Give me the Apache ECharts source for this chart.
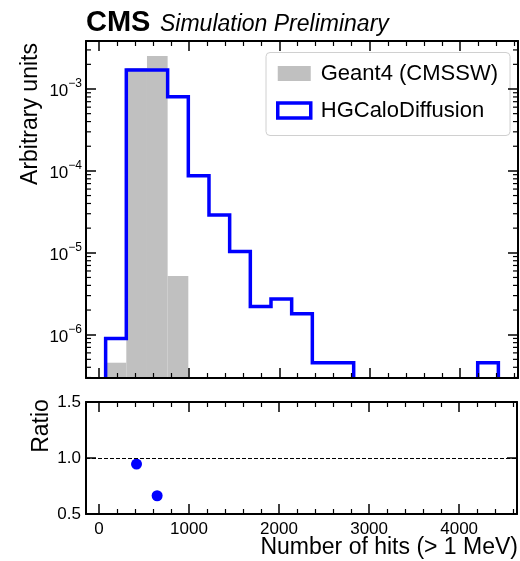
<!DOCTYPE html>
<html>
<head>
<meta charset="utf-8">
<script src="https://cdn.jsdelivr.net/npm/echarts@6/dist/echarts.min.js"></script>
<style>html,body{margin:0;padding:0;background:#fff}#c{width:520px;height:561px}</style>
</head>
<body>
<div id="c"></div>
<script>
// ---- data ----
const binEdges = [74, 303, 532, 761, 990, 1219, 1448, 1677, 1906, 2135, 2364, 2593, 2822, 3051, 3280, 3509, 3738, 3967, 4196, 4425];
const geant4Values = [4.55e-7, 1.81e-3, 2.53e-3, 5.2e-6, 0, 0, 0, 0, 0, 0, 0, 0, 0, 0, 0, 0, 0, 0, 0];
const hgcaloValues = [9.0e-7, 1.71e-3, 1.71e-3, 8.05e-4, 8.7e-5, 2.9e-5, 1.04e-5, 2.21e-6, 2.73e-6, 1.8e-6, 4.55e-7, 4.55e-7, 0, 0, 0, 0, 0, 0, 4.55e-7];
const ratioCenters = [417.5, 646.5];
const ratioValues = [0.946, 0.663];
const ratioTicks = [0.5, 1.0, 1.5];
const seriesNames = ['Geant4 (CMSSW)', 'HGCaloDiffusion'];

// ---- layout / style ----
const FONT = '"Liberation Sans", Arial, Helvetica, sans-serif';
const X_MIN = -143.5, X_MAX = 4642.5;
const Y_MIN = 2.96e-7, Y_MAX = 3.855e-3;
const BLUE = '#0000ff', GREY = '#c0c0c0';

const chart = echarts.init(document.getElementById('c'), null, {renderer: 'canvas'});

const spine = {show: true, onZero: false, lineStyle: {color: '#000', width: 2}};
function xAxisDef(grid, pos, showLabels) {
  return {
    type: 'value', gridIndex: grid, position: pos, min: X_MIN, max: X_MAX, z: 5,
    axisLine: spine,
    axisTick: {show: true, inside: true, length: 10, lineStyle: {color: '#000', width: 1.5}},
    minorTick: {show: true, splitNumber: 5, length: 5, lineStyle: {color: '#000', width: 1.2}},
    splitLine: {show: false}, minorSplitLine: {show: false},
    axisLabel: {show: showLabels, color: '#000', fontSize: 17, fontFamily: FONT, margin: 7,
      formatter: v => (Math.abs(v % 1000) < 1e-6 ? String(Math.round(v)) : '')}
  };
}
function logAxisDef(pos, showLabels) {
  return {
    type: 'log', logBase: 10, gridIndex: 0, position: pos, min: Y_MIN, max: Y_MAX, z: 5,
    axisLine: spine,
    axisTick: {show: true, inside: true, length: 10, lineStyle: {color: '#000', width: 1.5}},
    splitLine: {show: false},
    axisLabel: {
      show: showLabels, margin: 4,
      formatter: function (v) {
        const l = Math.log10(v), e = Math.round(l);
        if (Math.abs(l - e) > 1e-6) return '';
        return '{b|10}{s|' + (e < 0 ? '\u2212' : '') + Math.abs(e) + '}';
      },
      rich: {
        b: {fontSize: 17, lineHeight: 22, verticalAlign: 'bottom', fontFamily: FONT, color: '#000'},
        s: {fontSize: 12, lineHeight: 12, verticalAlign: 'top', fontFamily: FONT, color: '#000'}
      }
    }
  };
}
function ratioAxisDef(pos, showLabels) {
  return {
    type: 'value', gridIndex: 1, position: pos, min: ratioTicks[0], max: ratioTicks[ratioTicks.length - 1],
    interval: 0.5, z: 5,
    axisLine: spine,
    axisTick: {show: true, inside: true, length: 10, lineStyle: {color: '#000', width: 1.5}},
    splitLine: {show: false},
    axisLabel: {show: showLabels, color: '#000', fontSize: 17, fontFamily: FONT, margin: 5,
      formatter: v => v.toFixed(1)}
  };
}

// minor log tick positions (axis decoration)
const minorLogTicks = [];
for (let e = -7; e <= -2; e++) for (let k = 2; k <= 9; k++) {
  const v = k * Math.pow(10, e);
  if (v > Y_MIN && v < Y_MAX) minorLogTicks.push([0, v]);
}

const histItems = geant4Values.map((v, i) => [binEdges[i], binEdges[i + 1], v > 0 ? v : Y_MIN]);

const option = {
  animation: false,
  backgroundColor: '#fff',
  grid: [
    {left: 86, top: 41, width: 432, height: 337},
    {left: 86, top: 402, width: 432, height: 112}
  ],
  xAxis: [
    xAxisDef(0, 'bottom', false),
    xAxisDef(0, 'top', false),
    xAxisDef(1, 'bottom', true),
    xAxisDef(1, 'top', false)
  ],
  yAxis: [
    logAxisDef('left', true),
    logAxisDef('right', false),
    ratioAxisDef('left', true),
    ratioAxisDef('right', false)
  ],
  legend: {
    orient: 'vertical', left: 266, top: 52.5,
    padding: [10, 12, 14, 10],
    itemWidth: 33, itemHeight: 15, itemGap: 15,
    borderColor: '#d0d0d0', borderWidth: 1, borderRadius: 4,
    backgroundColor: 'rgba(255,255,255,0.8)',
    selectedMode: false,
    textStyle: {fontSize: 22, fontFamily: FONT, color: '#000', lineHeight: 15, padding: [0, 0, 0, 5]},
    data: [
      {name: seriesNames[0], icon: 'rect', itemStyle: {color: GREY, borderWidth: 0}},
      {name: seriesNames[1], icon: 'rect', itemStyle: {color: '#fff', borderColor: BLUE, borderWidth: 3.5}}
    ]
  },
  graphic: [
    {type: 'text', x: 86, y: 22.5, silent: true,
      style: {text: 'CMS', font: 'bold 29px ' + FONT, fill: '#000', textVerticalAlign: 'middle', textAlign: 'left'}},
    {type: 'text', x: 160, y: 25, silent: true,
      style: {text: 'Simulation Preliminary', font: 'italic 23px ' + FONT, fill: '#000', textVerticalAlign: 'middle', textAlign: 'left'}},
    {type: 'text', x: 518, y: 547.5, silent: true,
      style: {text: 'Number of hits (> 1 MeV)', font: '23px ' + FONT, fill: '#000', textVerticalAlign: 'middle', textAlign: 'right'}},
    {type: 'text', x: 30.3, y: 114, rotation: Math.PI / 2, silent: true,
      style: {text: 'Arbitrary units', font: '23px ' + FONT, fill: '#000', textVerticalAlign: 'middle', textAlign: 'center'}},
    {type: 'text', x: 42, y: 426, rotation: Math.PI / 2, silent: true,
      style: {text: 'Ratio', font: '23px ' + FONT, fill: '#000', textVerticalAlign: 'middle', textAlign: 'center'}}
  ],
  series: [
    {
      name: seriesNames[0], type: 'custom', xAxisIndex: 0, yAxisIndex: 0, clip: true, z: 2,
      data: histItems, encode: {x: [0, 1], y: 2},
      renderItem: function (params, api) {
        const i = params.dataIndex;
        const v = geant4Values[i];
        if (!(v > 0)) return null;
        const cs = params.coordSys;
        const p1 = api.coord([binEdges[i], v]);
        const p2 = api.coord([binEdges[i + 1], v]);
        const bottom = cs.y + cs.height;
        return {type: 'rect', shape: {x: p1[0], y: p1[1], width: p2[0] - p1[0], height: bottom - p1[1]},
          style: {fill: GREY, stroke: null}};
      }
    },
    {
      name: seriesNames[1], type: 'custom', xAxisIndex: 0, yAxisIndex: 0, clip: true, z: 3,
      data: [[binEdges[0], hgcaloValues[1]]], encode: {x: 0, y: 1},
      renderItem: function (params, api) {
        const cs = params.coordSys;
        const below = cs.y + cs.height + 12;
        const yOf = v => (v > 0 ? api.coord([binEdges[0], v])[1] : below);
        const pts = [[api.coord([binEdges[0], Y_MIN])[0], below]];
        for (let i = 0; i < hgcaloValues.length; i++) {
          const y = yOf(hgcaloValues[i]);
          pts.push([api.coord([binEdges[i], Y_MIN])[0], y]);
          pts.push([api.coord([binEdges[i + 1], Y_MIN])[0], y]);
        }
        pts.push([api.coord([binEdges[binEdges.length - 1], Y_MIN])[0], below]);
        return {type: 'polyline', shape: {points: pts},
          style: {stroke: BLUE, lineWidth: 3.5, fill: null, lineJoin: 'miter'}};
      }
    },
    {
      name: 'minorticks', type: 'custom', xAxisIndex: 0, yAxisIndex: 0, clip: false, z: 6, silent: true,
      data: minorLogTicks, encode: {x: 0, y: 1},
      renderItem: function (params, api) {
        const cs = params.coordSys;
        const y = api.coord([0, api.value(1)])[1];
        const st = {stroke: '#000', lineWidth: 1.2};
        return {type: 'group', children: [
          {type: 'line', shape: {x1: cs.x, y1: y, x2: cs.x + 5, y2: y}, style: st},
          {type: 'line', shape: {x1: cs.x + cs.width - 5, y1: y, x2: cs.x + cs.width, y2: y}, style: st}
        ]};
      }
    },
    {
      name: 'Ratio', type: 'scatter', xAxisIndex: 2, yAxisIndex: 2, z: 3,
      symbol: 'circle', symbolSize: 11,
      itemStyle: {color: BLUE, opacity: 1},
      data: ratioCenters.map((x, i) => [x, ratioValues[i]]),
      markLine: {
        silent: true, symbol: ['none', 'none'], label: {show: false},
        lineStyle: {color: '#000', type: [4, 2], width: 1},
        data: [{yAxis: 1}]
      }
    }
  ]
};
chart.setOption(option);
</script>
</body>
</html>
